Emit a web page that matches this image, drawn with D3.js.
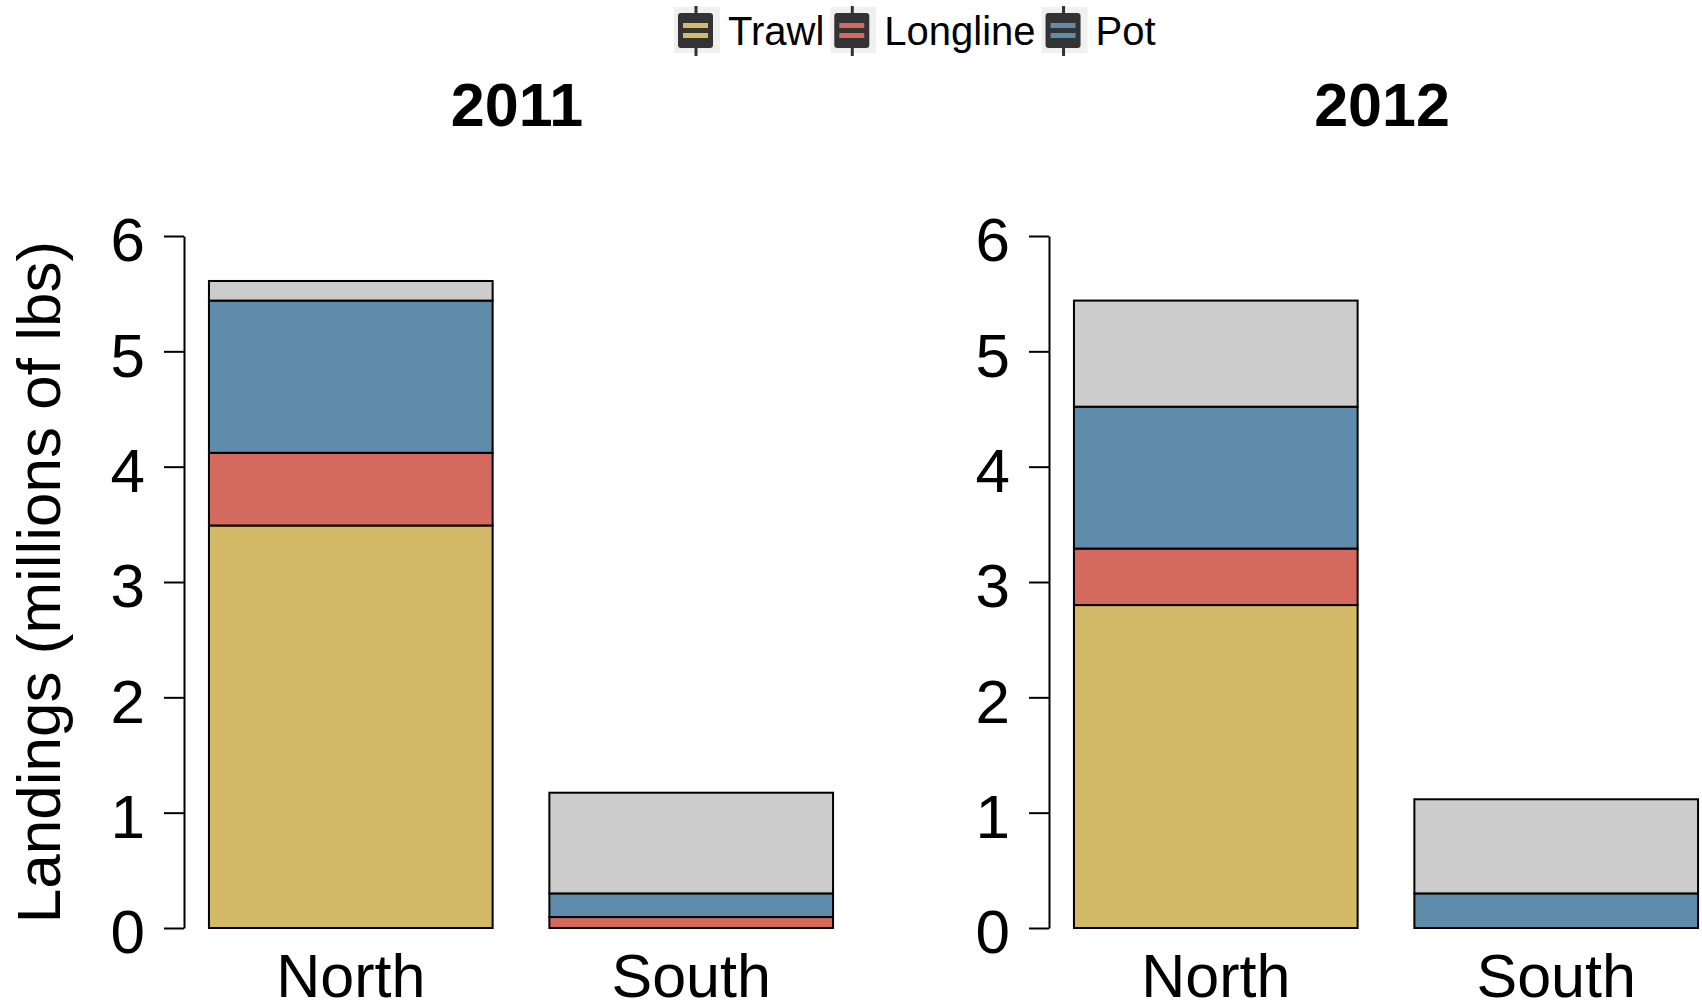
<!DOCTYPE html>
<html>
<head>
<meta charset="utf-8">
<script src="https://cdn.jsdelivr.net/npm/d3@7"></script>
<style>
  body { margin: 0; background: #fff; }
  svg { display: block; font-family: 'Liberation Sans', Arial, sans-serif; }
  .tick text { fill: #000; }
</style>
</head>
<body>
<div id="chart"></div>
<script>
// Landings by gear type (millions of lbs), one value per region [North, South]
const years = ['2011', '2012'];
const regions = ['North', 'South'];
const gears = ['Trawl', 'Longline', 'Pot', 'Other'];
const legendGears = ['Trawl', 'Longline', 'Pot'];

const trawl2011 = [3.49, 0.00];
const longline2011 = [0.63, 0.095];
const pot2011 = [1.32, 0.205];
const other2011 = [0.17, 0.873];

const trawl2012 = [2.80, 0.00];
const longline2012 = [0.49, 0.00];
const pot2012 = [1.23, 0.30];
const other2012 = [0.92, 0.816];

const yTicks = [0, 1, 2, 3, 4, 5, 6];

const colors = {
  Trawl: '#d4b968',
  Longline: '#d4695e',
  Pot: '#5e8caa',
  Other: '#cccccc',
};

const width = 1702;
const height = 1004;

const svg = d3.select('#chart')
  .append('svg')
  .attr('width', width)
  .attr('height', height);

// build rows for stacking
function rowsFor(trawl, longline, pot, other) {
  return regions.map((r, i) => ({
    region: r,
    Trawl: trawl[i],
    Longline: longline[i],
    Pot: pot[i],
    Other: other[i],
  }));
}

const panels = [
  { year: years[0], left: 184, rows: rowsFor(trawl2011, longline2011, pot2011, other2011) },
  { year: years[1], left: 1049, rows: rowsFor(trawl2012, longline2012, pot2012, other2012) },
];

const plotWidth = 674;
const y = d3.scaleLinear().domain([0, 6]).range([928, 236]);
const stack = d3.stack().keys(gears);

panels.forEach((p) => {
  const g = svg.append('g').attr('transform', `translate(${p.left},0)`);

  // R barplot spacing: space = 0.2, 4% extension of xlim
  const x = d3.scaleBand()
    .domain(regions)
    .range([0, plotWidth])
    .paddingInner(1 / 6)
    .paddingOuter(0.0733);

  const series = stack(p.rows);

  g.selectAll('g.layer')
    .data(series)
    .join('g')
    .attr('class', 'layer')
    .attr('fill', (d) => colors[d.key])
    .selectAll('rect')
    .data((d) => d.filter((v) => v[1] - v[0] > 0))
    .join('rect')
    .attr('x', (d) => x(d.data.region))
    .attr('width', x.bandwidth())
    .attr('y', (d) => y(d[1]))
    .attr('height', (d) => y(d[0]) - y(d[1]))
    .attr('stroke', '#000')
    .attr('stroke-width', 2);

  // y axis
  const yAxis = g.append('g')
    .call(d3.axisLeft(y)
      .tickValues(yTicks)
      .tickFormat(d3.format('d'))
      .tickSize(20)
      .tickSizeOuter(0)
      .tickPadding(19));
  yAxis.select('.domain').attr('stroke-width', 2);
  yAxis.selectAll('.tick line').attr('stroke-width', 2);
  yAxis.selectAll('.tick text')
    .attr('font-size', 62)
    .attr('dy', '0.4em');

  // category labels
  g.selectAll('text.cat')
    .data(regions)
    .join('text')
    .attr('class', 'cat')
    .attr('x', (d) => x(d) + x.bandwidth() / 2)
    .attr('y', 997)
    .attr('text-anchor', 'middle')
    .attr('font-size', 61)
    .text((d) => d);

  // panel title
  g.append('text')
    .attr('x', plotWidth / 2 - 4)
    .attr('y', 126)
    .attr('text-anchor', 'middle')
    .attr('font-size', 61)
    .attr('font-weight', 'bold')
    .text(p.year);
});

// y axis title
svg.append('text')
  .attr('transform', `translate(60,${(y(0) + y(6)) / 2}) rotate(-90)`)
  .attr('text-anchor', 'middle')
  .attr('font-size', 62)
  .text('Landings (millions of lbs)');

// legend
const legend = svg.append('g').attr('class', 'legend');
let lx = 676;
legendGears.forEach((k) => {
  const item = legend.append('g').attr('transform', `translate(${lx},0)`);
  item.append('rect')
    .attr('x', -2).attr('y', 7)
    .attr('width', 46).attr('height', 46)
    .attr('fill', '#f0f0f0');
  item.append('line')
    .attr('x1', 20).attr('x2', 20)
    .attr('y1', 6).attr('y2', 56)
    .attr('stroke', '#333').attr('stroke-width', 3);
  item.append('rect')
    .attr('x', 2).attr('y', 13)
    .attr('width', 35).attr('height', 35)
    .attr('rx', 3)
    .attr('fill', '#333');
  [23, 33].forEach((ly) => {
    item.append('rect')
      .attr('x', 7).attr('y', ly)
      .attr('width', 25).attr('height', 5)
      .attr('fill', colors[k]);
  });
  const t = item.append('text')
    .attr('x', 52)
    .attr('y', 45)
    .attr('font-size', 40)
    .text(k);
  lx += 52 + t.node().getComputedTextLength() + 8;
});
</script>
</body>
</html>
